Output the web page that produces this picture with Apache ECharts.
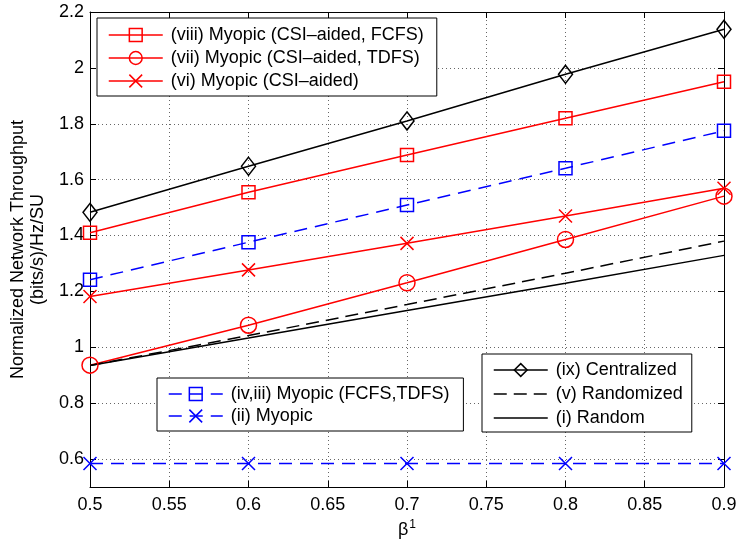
<!DOCTYPE html>
<html><head><meta charset="utf-8">
<script src="https://cdn.jsdelivr.net/npm/echarts@6/dist/echarts.min.js"></script>
<style>html,body{margin:0;padding:0;background:#fff}#c{width:738px;height:543px}</style>
</head><body><div id="c"></div>
<script>
// ---- data ----
const betas = [0.5, 0.6, 0.7, 0.8, 0.9];
const centralized      = [1.483, 1.648, 1.810, 1.977, 2.138];  // (ix)
const csiFcfs          = [1.410, 1.555, 1.688, 1.820, 1.950];  // (viii)
const myopicFcfsTdfs   = [1.242, 1.376, 1.509, 1.641, 1.775];  // (iv,iii)
const csiAided         = [1.182, 1.277, 1.372, 1.470, 1.569];  // (vi)
const csiTdfs          = [0.936, 1.079, 1.231, 1.386, 1.541];  // (vii)
const randomized       = [0.935, 1.042, 1.153, 1.265, 1.380];  // (v)
const randomRand       = [0.935, 1.033, 1.132, 1.229, 1.329];  // (i)
const myopic           = [0.584, 0.584, 0.584, 0.584, 0.584];  // (ii)
const yTicks = [0.6, 0.8, 1.0, 1.2, 1.4, 1.6, 1.8, 2.0, 2.2];
const xMin = 0.5, xMax = 0.9, xStep = 0.05;
const yMin = 0.5, yMax = 2.2;

const FONT = 'Liberation Sans, Arial, Helvetica, sans-serif';
const RED = '#ff0000', BLUE = '#0000ff', BLACK = '#000000';
const CROSS = 'path://M0,0L10,10M10,0L0,10';

function pairs(vals) { return betas.map((b, i) => [b, vals[i]]); }
function mk(name, vals, color, symbol, size, dashed) {
  const hasSym = symbol !== null;
  return {
    name: name, type: 'line', data: pairs(vals),
    symbol: hasSym ? symbol : 'circle',
    symbolSize: size || 12,
    showSymbol: hasSym,
    animation: false,
    itemStyle: { color: 'rgba(0,0,0,0)', borderColor: hasSym ? color : 'rgba(0,0,0,0)', borderWidth: 1.5 },
    lineStyle: { color: color, width: 1.5, type: dashed ? dashed : 'solid' },
    emphasis: { disabled: true },
    z: 3
  };
}

const series = [
  mk('(ix) Centralized', centralized, BLACK, 'diamond', [14, 18], null),
  mk('(viii) Myopic (CSI\u2013aided, FCFS)', csiFcfs, RED, 'rect', 13, null),
  mk('(iv,iii) Myopic (FCFS,TDFS)', myopicFcfsTdfs, BLUE, 'rect', 13, [13, 8]),
  mk('(vi) Myopic (CSI\u2013aided)', csiAided, RED, CROSS, 13, null),
  mk('(vii) Myopic (CSI\u2013aided, TDFS)', csiTdfs, RED, 'circle', 16, null),
  mk('(v) Randomized', randomized, BLACK, null, 0, [13, 7]),
  mk('(i) Random', randomRand, BLACK, null, 0, null),
  mk('(ii) Myopic', myopic, BLUE, CROSS, 13, [13, 8])
];

function legend(names, left, top, gap, padding) {
  return {
    data: names, orient: 'vertical', left: left, top: top,
    itemWidth: 54, itemHeight: 16, itemGap: gap,
    padding: padding, borderColor: '#000', borderWidth: 1, backgroundColor: '#fff',
    selectedMode: false, borderRadius: 0,
    itemStyle: { borderWidth: 1.5 },
    lineStyle: { width: 1.5 },
    textStyle: { fontFamily: FONT, fontSize: 18, color: '#000', lineHeight: 20, padding: [0, 0, 0, 3] }
  };
}

const tickLabel = { fontFamily: FONT, fontSize: 18, color: '#000' };
const option = {
  backgroundColor: '#fff',
  animation: false,
  grid: { left: 90, right: 14, top: 12, bottom: 56, containLabel: false, outerBoundsMode: 'none' },
  legend: [
    legend(['(viii) Myopic (CSI\u2013aided, FCFS)', '(vii) Myopic (CSI\u2013aided, TDFS)', '(vi) Myopic (CSI\u2013aided)'], 97, 18, 3, [7, 13, 5, 11]),
    legend(['(iv,iii) Myopic (FCFS,TDFS)', '(ii) Myopic'], 157, 378, 2, [6, 14, 5, 11]),
    legend(['(ix) Centralized', '(v) Randomized', '(i) Random'], 482, 354, 4, [6, 9, 4, 11])
  ],
  xAxis: [{
    type: 'value', min: xMin, max: xMax, interval: xStep,
    name: '{b|\u03b2}{s|1}', nameLocation: 'middle', nameGap: 30,
    nameTextStyle: { rich: { b: { fontFamily: FONT, fontSize: 18, color: '#000' }, s: { fontFamily: FONT, fontSize: 12, color: '#000', padding: [0, 0, 10, 1] } } },
    axisLine: { lineStyle: { color: '#000', width: 1 } },
    axisTick: { inside: true, length: 6, lineStyle: { color: '#000' } },
    axisLabel: Object.assign({ margin: 9 }, tickLabel),
    splitLine: { show: true, lineStyle: { color: '#666', type: [1, 3], width: 1 } }
  }, {
    type: 'value', position: 'top', min: xMin, max: xMax, interval: xStep,
    axisLine: { lineStyle: { color: '#000', width: 1 } },
    axisTick: { inside: true, length: 6, lineStyle: { color: '#000' } },
    axisLabel: { show: false }, splitLine: { show: false }
  }],
  yAxis: [{
    type: 'value', min: yMin, max: yMax,
    name: 'Normalized Network Throughput\n(bits/s)/Hz/SU', nameLocation: 'middle', nameGap: 41,
    nameTextStyle: { fontFamily: FONT, fontSize: 18, color: '#000', lineHeight: 20 },
    axisLine: { show: true, lineStyle: { color: '#000', width: 1 } },
    axisTick: { show: true, inside: true, length: 6, customValues: yTicks, lineStyle: { color: '#000' } },
    axisLabel: Object.assign({ margin: 6, customValues: yTicks, formatter: v => String(+v.toFixed(1)) }, tickLabel),
    splitLine: { show: true, lineStyle: { color: '#666', type: [1, 3], width: 1 } }
  }, {
    type: 'value', position: 'right', min: yMin, max: yMax,
    axisLine: { show: true, lineStyle: { color: '#000', width: 1 } },
    axisTick: { show: true, inside: true, length: 6, customValues: yTicks, lineStyle: { color: '#000' } },
    axisLabel: { show: false }, splitLine: { show: false }
  }],
  series: series
};
const chart = echarts.init(document.getElementById('c'), null, { renderer: 'canvas' });
chart.setOption(option);
</script></body></html>
